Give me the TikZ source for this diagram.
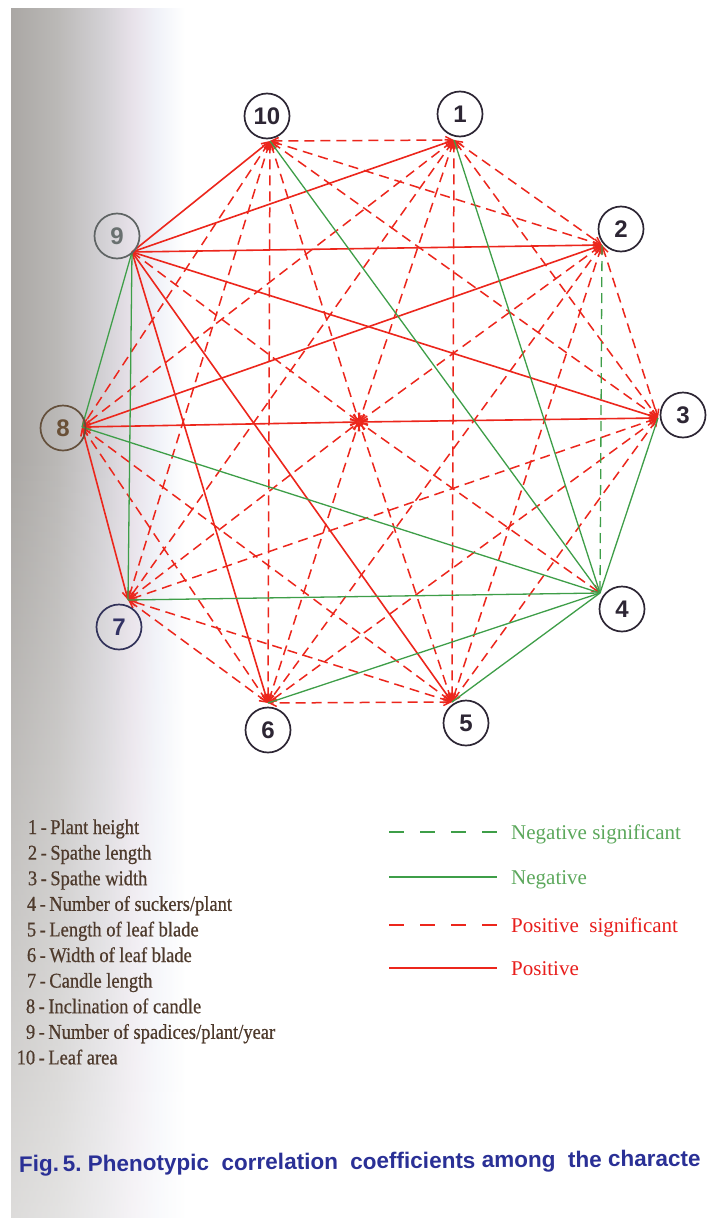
\documentclass[tikz,border=0pt]{standalone}
\usepackage{fontspec}
\setmainfont{Liberation Serif}
\newfontfamily\sansfam{Liberation Sans}
\newfontfamily\legfam[FakeStretch=0.88,FakeBold=0.6]{Liberation Serif}
\usetikzlibrary{arrows.meta,fadings}
\definecolor{posred}{RGB}{236,38,28}
\definecolor{neggreen}{RGB}{62,158,72}
\definecolor{ink}{RGB}{45,38,52}
\definecolor{legtxt}{RGB}{78,58,44}
\definecolor{titleblue}{RGB}{42,48,150}
\definecolor{greentxt}{RGB}{92,168,92}
\definecolor{redtxt}{RGB}{232,30,28}
\definecolor{pga}{RGB}{170,167,164}
\definecolor{pgb}{RGB}{186,184,182}
\definecolor{pgc}{RGB}{212,210,214}
\definecolor{pgd}{RGB}{232,226,234}
\definecolor{pge}{RGB}{240,242,248}
\pgfdeclarehorizontalshading{pagecurl}{100bp}{color(0bp)=(pga); color(25bp)=(pga); color(38bp)=(pgb); color(52bp)=(pgc); color(60bp)=(pgd); color(67bp)=(pge); color(75bp)=(white); color(100bp)=(white)}
\begin{document}
\begin{tikzpicture}[x=1pt,y=-1pt,
  >={Straight Barb[length=7pt,width=7pt]},
  possigline/.style={draw=posred, line width=1.5pt, dash pattern=on 10pt off 6pt},
  posline/.style={draw=posred, line width=1.6pt},
  negline/.style={draw=neggreen, line width=1.3pt},
  negsigline/.style={draw=neggreen, line width=1.3pt, dash pattern=on 10pt off 6pt},
  numc/.style={circle, draw=ink, line width=1.7pt, minimum size=45pt, inner sep=0pt,
    text=ink, font=\sansfam\bfseries\fontsize{24}{24}\selectfont},
  legrow/.style={anchor=base west, inner sep=0pt, text=legtxt,
    font=\legfam\fontsize{21}{24}\selectfont},
  keytext/.style={anchor=base west, inner sep=0pt, font=\fontsize{21}{24}\selectfont}]
\useasboundingbox (0,0) rectangle (707,1218);
\fill[white] (0,0) rectangle (707,1218);
\shade[shading=pagecurl] (11,8) rectangle (185,1218);
\fill[white, fill opacity=0.6, path fading=north] (11,450) rectangle (185,1218);

% vertices
\coordinate (v10) at (270,141);
\coordinate (v1) at (454,140);
\coordinate (v2) at (602,245);
\coordinate (v3) at (658,418);
\coordinate (v4) at (600,593);
\coordinate (v5) at (452,702);
\coordinate (v6) at (268,703);
\coordinate (v7) at (128,600);
\coordinate (v8) at (82,427);
\coordinate (v9) at (132,252);
\coordinate (ctr) at (359,422);

% positive significant
\foreach \a/\b in {10/1,10/2,10/3,10/6,10/7,10/8,1/2,1/3,1/5,1/7,1/8,2/3,2/5,2/6,3/5,3/6,3/7,5/6,5/7,5/8,6/7,6/8}
  \draw[possigline,<->] (v\a) -- (v\b);
\foreach \a in {10,5,1,6,2,7,4}
  \draw[possigline,<->] (v\a) -- (ctr);
\draw[possigline,->] (v9) -- (ctr);
% positive
\foreach \b in {10,1,2,3,5,6}
  \draw[posline,->] (v9) -- (v\b);
\foreach \a/\b in {8/2,8/7}
  \draw[posline,<->] (v\a) -- (v\b);
\foreach \a in {8,3}
  \draw[posline,<->] (v\a) -- (ctr);
% negative
\foreach \a/\b in {4/10,4/1,4/3,4/5,4/6,4/7,4/8,9/7,9/8}
  \draw[negline] (v\a) -- (v\b);
% negative significant
\draw[negsigline] (v2) -- (v4);

% numbered circles
\node[numc] (n10) at (267,116) {10};
\node[numc] (n1) at (460,114) {1};
\node[numc] (n2) at (621,229) {2};
\node[numc] (n3) at (683,415) {3};
\node[numc] (n4) at (622,609) {4};
\node[numc] (n5) at (466,723) {5};
\node[numc] (n6) at (268,730) {6};
\node[numc, draw={rgb,255:red,50;green,50;blue,90}, text={rgb,255:red,50;green,50;blue,100}] (n7) at (119,627) {7};
\node[numc, draw={rgb,255:red,100;green,80;blue,60}, text={rgb,255:red,105;green,80;blue,55}] (n8) at (63,428) {8};
\node[numc, draw={rgb,255:red,95;green,100;blue,100}, text={rgb,255:red,105;green,112;blue,112}] (n9) at (117,236) {9};

% legend of characters
\node[legrow] (r1) at (17,834.0) {\makebox[20pt][r]{1}\,-\,Plant height};
\node[legrow] (r2) at (17,859.6) {\makebox[20pt][r]{2}\,-\,Spathe length};
\node[legrow] (r3) at (17,885.2) {\makebox[20pt][r]{3}\,-\,Spathe width};
\node[legrow] (r4) at (16,910.8) {\makebox[20pt][r]{4}\,-\,Number of suckers/plant};
\node[legrow] (r5) at (16,936.4) {\makebox[20pt][r]{5}\,-\,Length of leaf blade};
\node[legrow] (r6) at (16,962.0) {\makebox[20pt][r]{6}\,-\,Width of leaf blade};
\node[legrow] (r7) at (16,987.6) {\makebox[20pt][r]{7}\,-\,Candle length};
\node[legrow] (r8) at (15,1013.2) {\makebox[20pt][r]{8}\,-\,Inclination of candle};
\node[legrow] (r9) at (15,1038.8) {\makebox[20pt][r]{9}\,-\,Number of spadices/plant/year};
\node[legrow] (r10) at (15,1064.4) {\makebox[20pt][r]{10}\,-\,Leaf area};

% key
\coordinate (ka1) at (389,832); \coordinate (kb1) at (497,832);
\coordinate (ka2) at (389,877); \coordinate (kb2) at (497,877);
\coordinate (ka3) at (389,925); \coordinate (kb3) at (497,925);
\coordinate (ka4) at (389,968); \coordinate (kb4) at (497,968);
\draw[neggreen, line width=1.6pt, dash pattern=on 15pt off 16pt] (ka1) -- (kb1);
\draw[neggreen, line width=1.6pt] (ka2) -- (kb2);
\draw[posred, line width=1.6pt, dash pattern=on 15pt off 16pt] (ka3) -- (kb3);
\draw[posred, line width=1.6pt] (ka4) -- (kb4);
\node[keytext, text=greentxt] (k1) at (511,839) {Negative significant};
\node[keytext, text=greentxt] (k2) at (511,884) {Negative};
\node[keytext, text=redtxt] (k3) at (511,932) {Positive\ \ significant};
\node[keytext, text=redtxt] (k4) at (511,975) {Positive};

% caption
\node[anchor=base west, inner sep=0pt, rotate=0.5, text=titleblue,
  font=\sansfam\bfseries\fontsize{22.5}{24}\selectfont] (cap) at (19,1172)
  {Fig.\,5.\ Phenotypic\ \ correlation\ \ coefficients\ among\ \ the\ characte};
\end{tikzpicture}
\end{document}
